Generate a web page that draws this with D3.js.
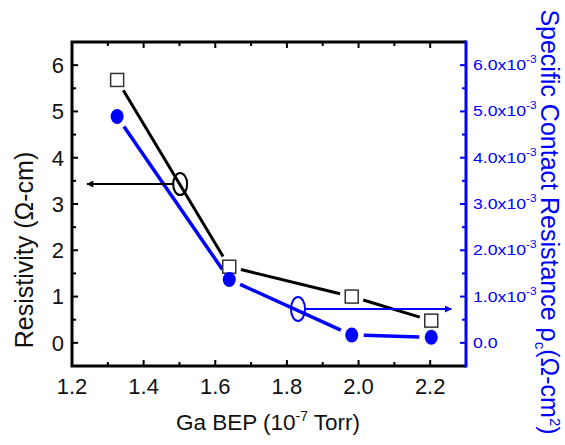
<!DOCTYPE html>
<html>
<head>
<meta charset="utf-8">
<script src="https://cdn.jsdelivr.net/npm/d3@7"></script>
<style>
  body { margin: 0; background: #fff; }
  text { font-family: "Liberation Sans", Arial, sans-serif; }
</style>
</head>
<body>
<div id="chart"></div>
<script>
// Ga BEP values (10^-7 Torr)
var bep = [1.326, 1.639, 1.981, 2.203]
// resistivity (ohm-cm), left axis
var resistivity = [5.68, 1.645, 1.0, 0.48]
// specific contact resistance (ohm-cm^2), right axis
var contactRes = [4.89e-3, 1.37e-3, 0.17e-3, 0.12e-3]

var xTicks = [1.2, 1.4, 1.6, 1.8, 2.0, 2.2]
var leftTicks = [0, 1, 2, 3, 4, 5, 6]
var rightTicks = [0, 1e-3, 2e-3, 3e-3, 4e-3, 5e-3, 6e-3]

var W = 565, H = 445
var svg = d3.select("#chart").append("svg")
    .attr("width", W)
    .attr("height", H)

var x = d3.scaleLinear().domain([1.2, 2.3]).range([72, 466])
var yL = d3.scaleLinear().domain([-0.5, 6.5]).range([366, 42])
var yR = d3.scaleLinear().domain([-0.5e-3, 6.5e-3]).range([366, 42])

var defs = svg.append("defs")
function arrowMarker(id, color) {
    defs.append("marker")
        .attr("id", id)
        .attr("viewBox", "0 0 10 10")
        .attr("refX", 9).attr("refY", 5)
        .attr("markerWidth", 11).attr("markerHeight", 7)
        .attr("markerUnits", "userSpaceOnUse")
        .attr("orient", "auto")
        .append("path").attr("d", "M0,0 L10,5 L0,10 Z").attr("fill", color)
}
arrowMarker("arrK", "black")
arrowMarker("arrB", "blue")

// axes, ticks pointing inward
var minorX = d3.range(11).map(i => 1.2 + i * 0.1)
var gx = svg.append("g").attr("transform", "translate(0," + yL.range()[0] + ")")
gx.selectAll("line").data(minorX).enter().append("line")
    .attr("x1", d => x(d)).attr("x2", d => x(d))
    .attr("y1", 0).attr("y2", (d, i) => i % 2 == 0 ? -6 : -4)
    .attr("stroke", "black").attr("stroke-width", 2)
gx.selectAll("text").data(xTicks).enter().append("text")
    .attr("x", d => x(d)).attr("y", 28)
    .attr("text-anchor", "middle").attr("font-size", 22).attr("fill", "#111")
    .text(d => d.toFixed(1))

var gt = svg.append("g").attr("transform", "translate(0," + yL.range()[1] + ")")
gt.selectAll("line").data(minorX).enter().append("line")
    .attr("x1", d => x(d)).attr("x2", d => x(d))
    .attr("y1", 0).attr("y2", (d, i) => i % 2 == 0 ? 6 : 4)
    .attr("stroke", "black").attr("stroke-width", 2)

var gl = svg.append("g").attr("transform", "translate(" + x(1.2) + ",0)")
gl.selectAll("line").data(d3.range(13).map(i => i * 0.5)).enter().append("line")
    .attr("y1", d => yL(d)).attr("y2", d => yL(d))
    .attr("x1", 0).attr("x2", (d, i) => i % 2 == 0 ? 6 : 4)
    .attr("stroke", "black").attr("stroke-width", 2)
gl.selectAll("text").data(leftTicks).enter().append("text")
    .attr("x", -8).attr("y", d => yL(d)).attr("dy", "0.36em")
    .attr("text-anchor", "end").attr("font-size", 22).attr("fill", "#111")
    .text(d => d)

var gr = svg.append("g").attr("transform", "translate(" + x(2.3) + ",0)")
gr.selectAll("line").data(d3.range(13).map(i => i * 0.5e-3)).enter().append("line")
    .attr("y1", d => yR(d)).attr("y2", d => yR(d))
    .attr("x1", 0).attr("x2", (d, i) => i % 2 == 0 ? -6 : -4)
    .attr("stroke", "blue").attr("stroke-width", 2)
var rl = gr.selectAll("text").data(rightTicks).enter().append("text")
    .attr("transform", d => "translate(7," + (yR(d) + 5) + ") scale(1.18,1)")
    .attr("font-size", 15).attr("fill", "blue")
rl.append("tspan").text(d => d == 0 ? "0.0" : (d * 1000).toFixed(1) + "x10")
rl.filter(d => d != 0).append("tspan").attr("dy", -7).attr("font-size", 10).text("-3")

// frame
svg.append("path")
    .attr("d", "M" + x(2.3) + "," + yL(6.5) + " H" + x(1.2) + " V" + yL(-0.5) + " H" + x(2.3))
    .attr("fill", "none").attr("stroke", "black").attr("stroke-width", 3)
svg.append("line")
    .attr("x1", x(2.3)).attr("x2", x(2.3)).attr("y1", yL(6.5) - 1.5).attr("y2", yL(-0.5) + 1.5)
    .attr("stroke", "blue").attr("stroke-width", 3)

// lines with gaps around symbols
function gapLines(pts, color, width) {
    var gap = 12
    for (var i = 0; i < pts.length - 1; i++) {
        var a = pts[i], b = pts[i + 1]
        var dx = b[0] - a[0], dy = b[1] - a[1], len = Math.sqrt(dx * dx + dy * dy)
        var ux = dx / len, uy = dy / len
        svg.append("line")
            .attr("x1", a[0] + ux * gap).attr("y1", a[1] + uy * gap)
            .attr("x2", b[0] - ux * gap).attr("y2", b[1] - uy * gap)
            .attr("stroke", color).attr("stroke-width", width)
    }
}
var ptsK = bep.map((d, i) => [x(d), yL(resistivity[i])])
var ptsB = bep.map((d, i) => [x(d), yR(contactRes[i])])
gapLines(ptsK, "black", 3)
gapLines(ptsB, "blue", 3.5)

svg.selectAll("rect.sq").data(ptsK).enter().append("rect")
    .attr("x", d => d[0] - 6.5).attr("y", d => d[1] - 6.5)
    .attr("width", 13).attr("height", 13)
    .attr("fill", "white").attr("stroke", "#333").attr("stroke-width", 1.5)
svg.selectAll("ellipse.pt").data(ptsB).enter().append("ellipse")
    .attr("cx", d => d[0]).attr("cy", d => d[1])
    .attr("rx", 6.5).attr("ry", 7.5).attr("fill", "blue")

// annotations: ellipses with arrows pointing to their axis
svg.append("ellipse").attr("cx", x(1.502)).attr("cy", yL(3.43))
    .attr("rx", 7).attr("ry", 11).attr("fill", "none").attr("stroke", "black").attr("stroke-width", 2)
svg.append("line").attr("x1", x(1.502) - 6).attr("y1", yL(3.43))
    .attr("x2", x(1.242)).attr("y2", yL(3.43))
    .attr("stroke", "black").attr("stroke-width", 2).attr("marker-end", "url(#arrK)")
svg.append("ellipse").attr("cx", x(1.831)).attr("cy", yR(0.73e-3))
    .attr("rx", 7).attr("ry", 12).attr("fill", "none").attr("stroke", "blue").attr("stroke-width", 2)
svg.append("line").attr("x1", x(1.831) + 6).attr("y1", yR(0.73e-3))
    .attr("x2", x(2.259)).attr("y2", yR(0.73e-3))
    .attr("stroke", "blue").attr("stroke-width", 2).attr("marker-end", "url(#arrB)")

// axis titles
var xt = svg.append("text").attr("x", 268).attr("y", 430)
    .attr("text-anchor", "middle").attr("font-size", 22.5).attr("fill", "#111")
xt.append("tspan").text("Ga BEP (10")
xt.append("tspan").attr("dy", -9).attr("font-size", 14).text("-7")
xt.append("tspan").attr("dy", 9).text(" Torr)")

svg.append("text")
    .attr("transform", "translate(33,250) rotate(-90)")
    .attr("text-anchor", "middle").attr("font-size", 25).attr("fill", "#111")
    .text("Resistivity (\u03A9-cm)")

var rt = svg.append("text")
    .attr("transform", "translate(541,222) rotate(90)")
    .attr("text-anchor", "middle").attr("font-size", 25).attr("fill", "blue")
rt.append("tspan").text("Specific Contact Resistance \u03C1")
rt.append("tspan").attr("dy", 6).attr("font-size", 15).text("c")
rt.append("tspan").attr("dy", -6).text("(\u03A9-cm")
rt.append("tspan").attr("dy", -9).attr("font-size", 15).text("2")
rt.append("tspan").attr("dy", 9).text(")")
</script>
</body>
</html>
